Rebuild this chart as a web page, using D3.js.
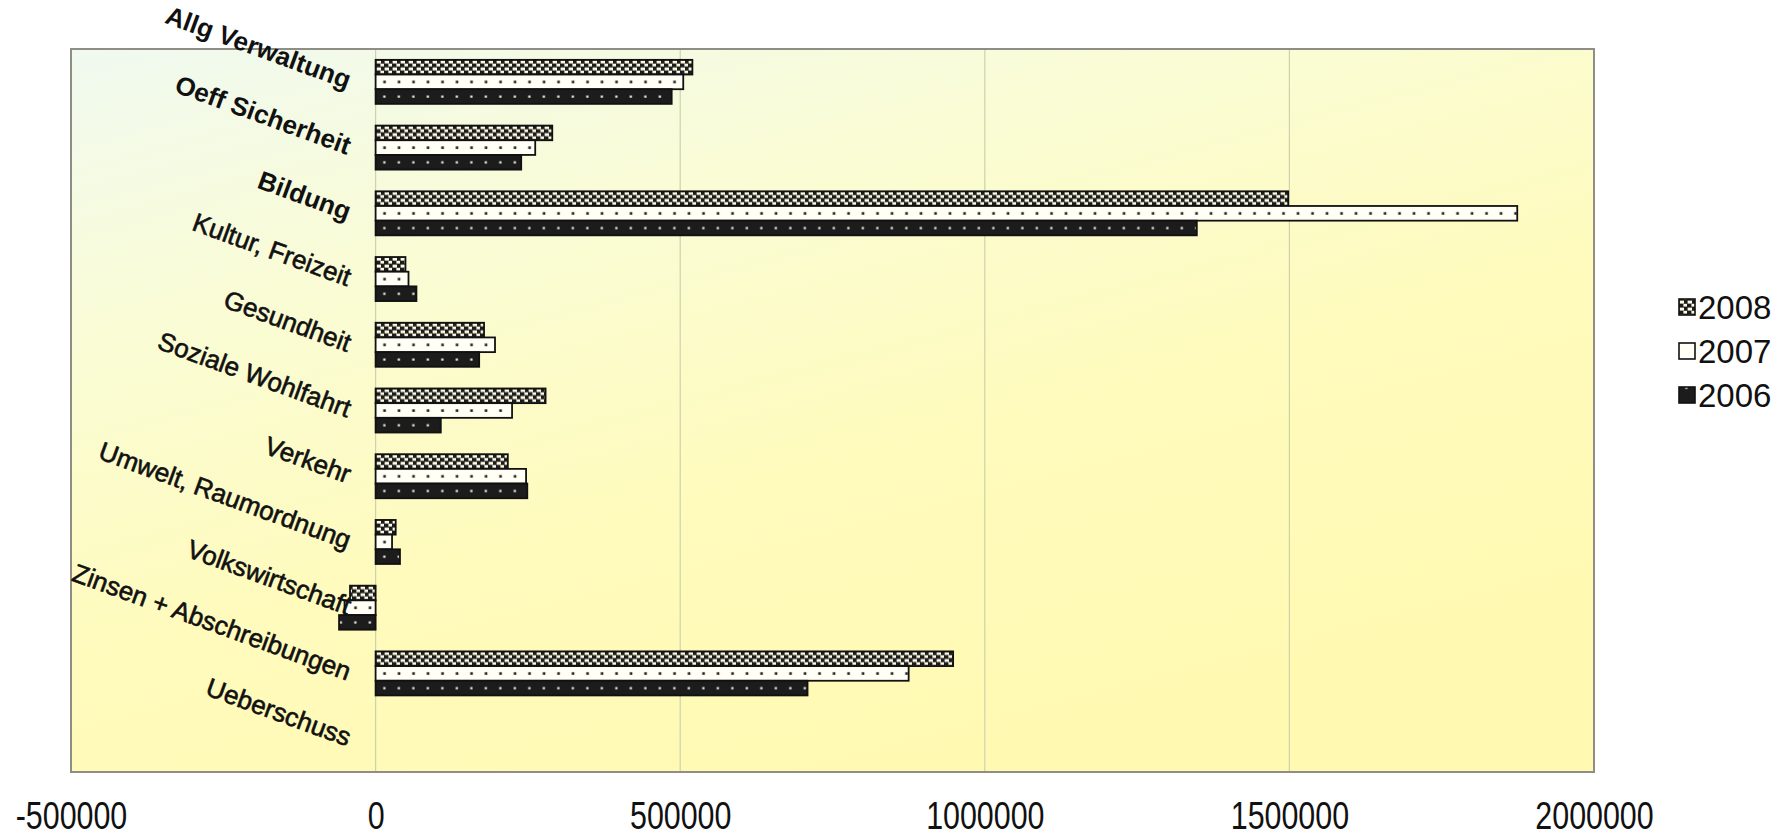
<!DOCTYPE html>
<html>
<head>
<meta charset="utf-8">
<script src="https://cdn.jsdelivr.net/npm/d3@7"></script>
<style>
  body { margin: 0; background: #fff; }
  svg { display: block; }
</style>
</head>
<body>
<div id="chart"></div>
<script>
// Daten
const categories = ["Allg Verwaltung", "Oeff Sicherheit", "Bildung", "Kultur, Freizeit", "Gesundheit",
    "Soziale Wohlfahrt", "Verkehr", "Umwelt, Raumordnung", "Volkswirtschaft",
    "Zinsen + Abschreibungen", "Ueberschuss"];
const years = ["2008", "2007", "2006"];
const values2008 = [520000, 290000, 1498000, 49000, 178000, 279000, 217000, 33000, -42000, 948000, 0];
const values2007 = [505000, 262000, 1874000, 54000, 196000, 224000, 247000, 27000, -51000, 875000, 0];
const values2006 = [486000, 239000, 1348000, 67000, 170000, 107000, 249000, 40000, -60000, 709000, 0];
const xTicks = [-500000, 0, 500000, 1000000, 1500000, 2000000];

const seriesValues = { "2008": values2008, "2007": values2007, "2006": values2006 };

const width = 1785;
const height = 837;
const plot = { left: 71, right: 1594, top: 49, bottom: 772 };

const svg = d3.select('#chart')
    .append('svg')
    .attr('width', width)
    .attr('height', height)
    .style('background', '#fff');

// Scales
const x = d3.scaleLinear()
    .domain([xTicks[0], xTicks[xTicks.length - 1]])
    .range([plot.left, plot.right]);

const y0 = d3.scaleBand()
    .domain(categories)
    .range([plot.top, plot.bottom])
    .paddingInner(0.33)
    .paddingOuter(0.165);

const y1 = d3.scaleBand()
    .domain(years)
    .range([0, y0.bandwidth()]);

const defs = svg.append('defs');

// background gradient of the plot area
const grad = defs.append('linearGradient')
    .attr('id', 'plotBg')
    .attr('x1', 0).attr('y1', 0)
    .attr('x2', 0.55).attr('y2', 1);
grad.append('stop').attr('offset', '0%').attr('stop-color', '#f0f9f0');
grad.append('stop').attr('offset', '30%').attr('stop-color', '#f9fcd6');
grad.append('stop').attr('offset', '65%').attr('stop-color', '#fffbbd');
grad.append('stop').attr('offset', '100%').attr('stop-color', '#fff9b2');

// Fill patterns (one per year)
const groupH = y0.bandwidth();
const dotStep = 14.5;

const p2008 = defs.append('pattern')
    .attr('id', 'pat2008')
    .attr('patternUnits', 'userSpaceOnUse')
    .attr('width', 8).attr('height', 7);
p2008.append('rect').attr('width', 8).attr('height', 7).attr('fill', '#1b1b1b');
p2008.append('rect').attr('x', 0.6).attr('y', 0.6).attr('width', 4.4).attr('height', 3).attr('fill', '#fffce6');
p2008.append('rect').attr('x', 4.4).attr('y', 3.8).attr('width', 3.8).attr('height', 2.8).attr('fill', '#fffce6');

const p2007 = defs.append('pattern')
    .attr('id', 'pat2007')
    .attr('patternUnits', 'userSpaceOnUse')
    .attr('width', dotStep).attr('height', groupH);
p2007.append('rect').attr('width', dotStep).attr('height', groupH).attr('fill', '#fffff6');
p2007.append('rect')
    .attr('x', dotStep / 2 - 1).attr('y', y1('2007') + y1.bandwidth() / 2 - 1.2)
    .attr('width', 2.6).attr('height', 2.6).attr('fill', '#222');

const p2006 = defs.append('pattern')
    .attr('id', 'pat2006')
    .attr('patternUnits', 'userSpaceOnUse')
    .attr('width', dotStep).attr('height', groupH);
p2006.append('rect').attr('width', dotStep).attr('height', groupH).attr('fill', '#1c1c1c');
p2006.append('rect')
    .attr('x', dotStep / 2 - 1).attr('y', y1('2006') + y1.bandwidth() / 2 - 1)
    .attr('width', 2.2).attr('height', 2.2).attr('fill', '#f4f4e8');

// Plot area
svg.append('rect')
    .attr('x', plot.left)
    .attr('y', plot.top)
    .attr('width', plot.right - plot.left)
    .attr('height', plot.bottom - plot.top)
    .attr('fill', 'url(#plotBg)');

// Gridlines
svg.append('g')
    .selectAll('line')
    .data(xTicks.slice(1, -1))
    .enter()
    .append('line')
    .attr('x1', d => x(d)).attr('x2', d => x(d))
    .attr('y1', plot.top).attr('y2', plot.bottom)
    .attr('stroke', '#cdd2ad')
    .attr('stroke-width', 1.2);

// Border
svg.append('rect')
    .attr('x', plot.left)
    .attr('y', plot.top)
    .attr('width', plot.right - plot.left)
    .attr('height', plot.bottom - plot.top)
    .attr('fill', 'none')
    .attr('stroke', '#8e8e86')
    .attr('stroke-width', 2);

// Bars
const groups = svg.append('g')
    .selectAll('g')
    .data(categories)
    .enter()
    .append('g')
    .attr('transform', d => `translate(0, ${y0(d)})`);

groups.selectAll('rect')
    .data((cat, i) => years.map(yr => ({ year: yr, value: seriesValues[yr][i] })))
    .enter()
    .append('rect')
    .attr('x', d => Math.min(x(0), x(d.value)))
    .attr('y', d => y1(d.year))
    .attr('width', d => Math.abs(x(d.value) - x(0)))
    .attr('height', y1.bandwidth())
    .attr('fill', d => `url(#pat${d.year})`)
    .attr('stroke', '#111')
    .attr('stroke-width', 1.8)
    .attr('display', d => d.value === 0 ? 'none' : null);

// Category axis (rotated labels)
const yAxis = svg.append('g')
    .attr('transform', `translate(${x(0)}, 0)`)
    .call(d3.axisLeft(y0).tickSize(0).tickPadding(26));
yAxis.select('.domain').remove();
yAxis.selectAll('text')
    .attr('transform', 'rotate(20, -26, 0)')
    .attr('dy', '0.3em')
    .style('font-family', '"Liberation Sans", Arial, sans-serif')
    .style('font-size', '26px')
    .style('font-weight', (d, i) => i < 3 ? 'bold' : 'normal')
    .style('fill', '#111')
    .style('stroke', '#111')
    .style('stroke-width', (d, i) => i < 3 ? 0 : 0.6);

// Value axis
const xAxis = svg.append('g')
    .attr('transform', `translate(0, ${plot.bottom})`)
    .call(d3.axisBottom(x).tickValues(xTicks).tickSize(0).tickPadding(30).tickFormat(d => String(d)));
xAxis.select('.domain').remove();
xAxis.selectAll('text')
    .attr('transform', 'scale(0.8, 1)')
    .style('font-family', '"Liberation Sans", Arial, sans-serif')
    .style('font-size', '38px')
    .style('fill', '#111');

// Legend
const legend = svg.append('g')
    .selectAll('g')
    .data(years)
    .enter()
    .append('g')
    .attr('transform', (d, i) => `translate(1679, ${307 + i * 44})`);

legend.append('rect')
    .attr('x', 0)
    .attr('y', -8)
    .attr('width', 16)
    .attr('height', 16)
    .attr('fill', d => `url(#pat${d})`)
    .attr('stroke', '#111')
    .attr('stroke-width', 1.6);

legend.append('text')
    .attr('x', 19)
    .attr('y', 0)
    .attr('dy', '0.36em')
    .style('font-family', '"Liberation Sans", Arial, sans-serif')
    .style('font-size', '33px')
    .style('fill', '#111')
    .text(d => d);
</script>
</body>
</html>
